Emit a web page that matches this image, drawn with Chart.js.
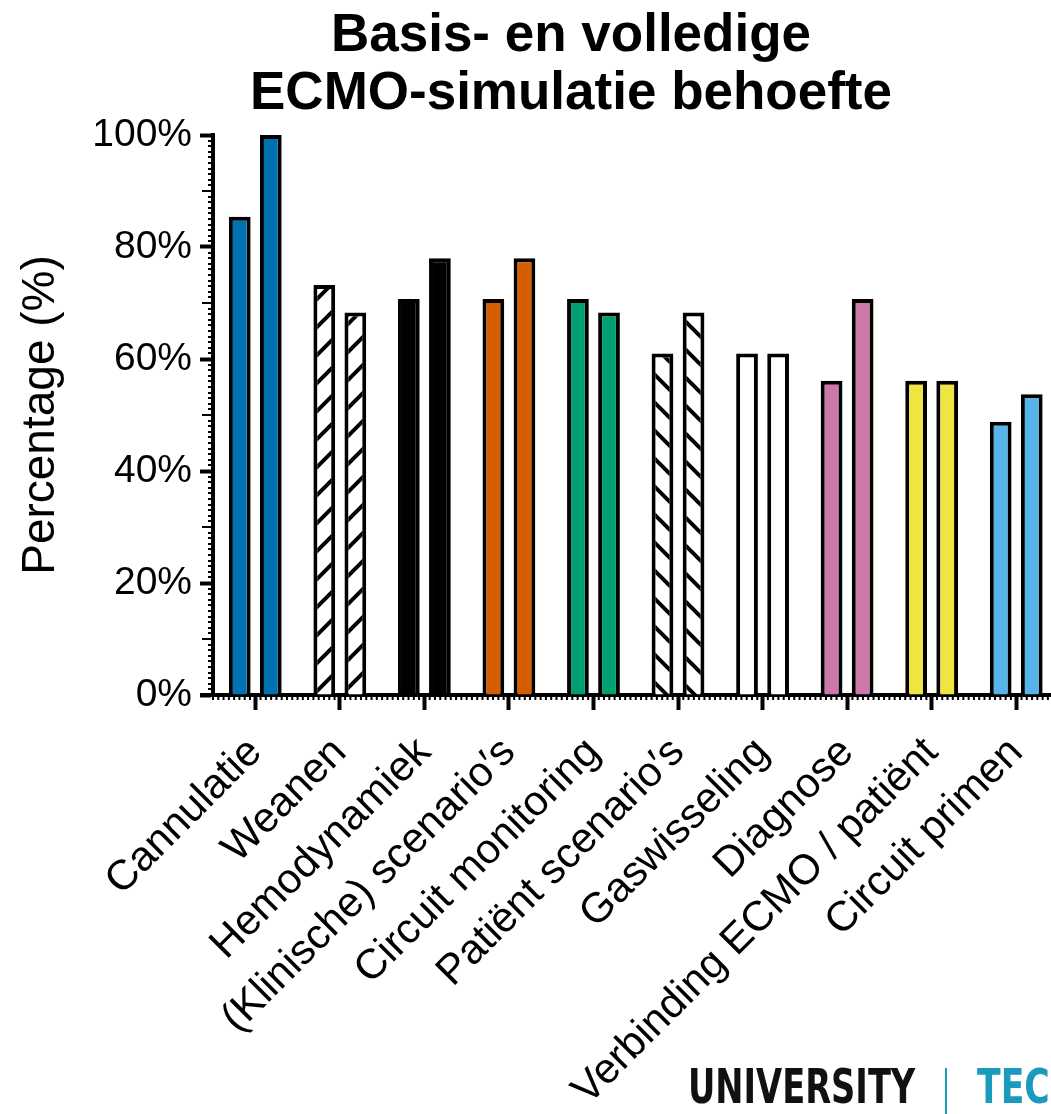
<!DOCTYPE html>
<html>
<head>
<meta charset="utf-8">
<script src="https://cdn.jsdelivr.net/npm/chart.js@4"></script>
<style>
  body { margin: 0; overflow: hidden; background: #fff; }
  #wrap { position: relative; width: 1070px; height: 1114px; }
  #title {
    position: absolute; left: 0; top: 4px; width: 1142px; text-align: center;
    font-family: "Liberation Sans", Arial, sans-serif; font-weight: bold;
    font-size: 53px; line-height: 58px; color: #000;
  }
  #logo { position: absolute; left: 688px; top: 1058px; width: 400px; height: 60px;
    font-family: "Liberation Sans Narrow", "DejaVu Sans Condensed", sans-serif; }
  #logo .uni { position: absolute; left: 0; top: 0; font-size: 48px; font-weight: bold; color: #111;
    transform-origin: 0 0; white-space: nowrap; }
  #logo .sep { position: absolute; left: 257px; top: 10px; width: 2px; height: 60px; background: #1a9bbd; }
  #logo .tec { position: absolute; left: 289px; top: 0; font-size: 48px; font-weight: bold; color: #1a9bbd;
    transform-origin: 0 0; white-space: nowrap; }
  #logo .of { position: absolute; left: 0; top: 50px; font-size: 48px; color: #999; }
  canvas { position: absolute; left: 0; top: 0; }
</style>
</head>
<body>
<div id="wrap">
  <canvas id="stage" width="1070" height="1114"></canvas>
  <div id="title">Basis- en volledige<br>ECMO-simulatie behoefte</div>
  <div id="logo">
    <span class="uni" id="uni">UNIVERSITY</span>
    <span class="sep"></span>
    <span class="tec" id="tec">TEC</span>
    <span class="of">OF TWENTE</span>
  </div>
</div>
<script>
// categorieen en percentages (n = 41)
const categories = ['Cannulatie', 'Weanen', 'Hemodynamiek', '(Klinische) scenario\u2032s', 'Circuit monitoring',
  'Patiënt scenario\u2032s', 'Gaswisseling', 'Diagnose', 'Verbinding ECMO / patiënt', 'Circuit primen'];
const basis = [85.4, 73.2, 70.7, 70.7, 70.7, 61.0, 61.0, 56.1, 56.1, 48.8];
const volledig = [100, 68.3, 78.0, 78.0, 68.3, 68.3, 61.0, 70.7, 56.1, 53.7];
const yTicks = [0, 20, 40, 60, 80, 100];

// logo tekst smaller maken
const uni = document.getElementById('uni');
uni.style.transform = 'scaleX(' + (227 / uni.offsetWidth) + ')';
const tec = document.getElementById('tec');
tec.style.transform = 'scaleX(' + (73 / tec.offsetWidth) + ')';

// arceerpatroon maken
function hatch(dir) {
  const c = document.createElement('canvas');
  c.width = 28; c.height = 28;
  const g = c.getContext('2d');
  g.fillStyle = '#fff';
  g.fillRect(0, 0, 28, 28);
  g.strokeStyle = '#000';
  g.lineWidth = 4;
  g.beginPath();
  if (dir === '/') {
    g.moveTo(-7, 35); g.lineTo(35, -7);
    g.moveTo(-7, 7); g.lineTo(7, -7);
    g.moveTo(21, 35); g.lineTo(35, 21);
  } else {
    g.moveTo(-7, -7); g.lineTo(35, 35);
    g.moveTo(-7, 21); g.lineTo(7, 35);
    g.moveTo(21, -7); g.lineTo(35, 7);
  }
  g.stroke();
  return g.createPattern(c, 'repeat');
}

const ctx = document.getElementById('stage').getContext('2d');
const colors = ['#0072B2', hatch('/'), '#000000', '#D55E00', '#009E73',
  hatch('\\'), '#FFFFFF', '#CC79A7', '#F0E442', '#56B4E9'];

// kleine maatstreepjes langs de assen
const minorTicks = {
  id: 'minorTicks',
  afterDraw(chart) {
    const c = chart.ctx;
    const x = chart.scales.x, y = chart.scales.y;
    const left = chart.chartArea.left, bottom = chart.chartArea.bottom;
    c.save();
    c.strokeStyle = '#000';
    c.lineWidth = 2;
    c.beginPath();
    for (let v = 0; v <= 100; v++) {
      if (v % 20 === 0) continue;
      const py = Math.round(y.getPixelForValue(v));
      const len = v % 10 === 0 ? 11 : 5;
      c.moveTo(left - len, py); c.lineTo(left, py);
    }
    const step = (x.getPixelForValue(1) - x.getPixelForValue(0)) / 16;
    for (let px = left; px <= chart.width; px += step) {
      c.moveTo(px, bottom); c.lineTo(px, bottom + 5);
    }
    c.stroke();
    // x-as loopt iets voorbij de y-as
    c.lineWidth = 4;
    c.beginPath();
    c.moveTo(left - 13, bottom); c.lineTo(left, bottom);
    c.stroke();
    c.restore();
  }
};

new Chart(ctx, {
  type: 'bar',
  data: {
    labels: categories,
    datasets: [
      { label: 'Basis', data: basis, backgroundColor: colors, borderColor: '#000', borderWidth: 4 },
      { label: 'Volledig', data: volledig, backgroundColor: colors, borderColor: '#000', borderWidth: 4 }
    ]
  },
  options: {
    responsive: false,
    animation: false,
    datasets: { bar: { barPercentage: 0.7, categoryPercentage: 0.735 } },
    layout: { padding: { top: 135, right: 3, left: 0, bottom: 0 } },
    plugins: { legend: { display: false }, tooltip: { enabled: false } },
    scales: {
      x: {
        grid: { offset: false, drawOnChartArea: false, tickLength: 15, tickWidth: 4, tickColor: '#000' },
        border: { display: true, width: 4, color: '#000' },
        ticks: {
          autoSkip: false, minRotation: 45, maxRotation: 45, padding: 18,
          color: '#000', font: { family: 'Liberation Sans', size: 42 }
        },
        afterFit(scale) { scale.height = 1114 - 695; }
      },
      y: {
        min: 0, max: 100,
        afterBuildTicks(scale) { scale.ticks = yTicks.map(v => ({ value: v })); },
        grid: { drawOnChartArea: false, tickLength: 13, tickWidth: 4, tickColor: '#000' },
        border: { display: true, width: 4, color: '#000' },
        ticks: {
          padding: 8, color: '#000', font: { family: 'Liberation Sans', size: 39 },
          callback: v => v + '%'
        },
        title: {
          display: true, text: 'Percentage (%)', color: '#000',
          font: { family: 'Liberation Sans', size: 46 }, padding: { top: 14, bottom: 0 }
        },
        afterFit(scale) { scale.width = 213; }
      }
    }
  },
  plugins: [minorTicks]
});
</script>
</body>
</html>
